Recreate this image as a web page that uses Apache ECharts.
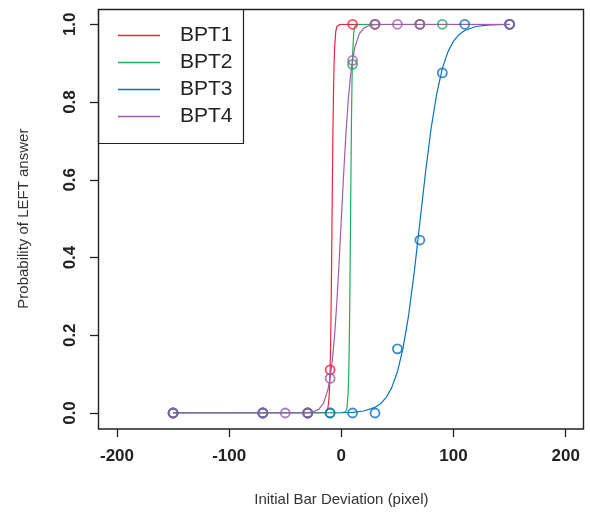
<!DOCTYPE html>
<html>
<head>
<meta charset="utf-8">
<script src="https://cdn.jsdelivr.net/npm/echarts@6/dist/echarts.min.js"></script>
<style>html,body{margin:0;padding:0;background:#fff}#c{width:590px;height:516px}</style>
</head>
<body>
<div id="c"></div>
<script>
// ---- data ----
const seriesNames = ['BPT1', 'BPT2', 'BPT3', 'BPT4'];
const seriesColors = ['#E8283F', '#1FAE57', '#0A70C0', '#A05CA9'];
const xTicks = [-200, -100, 0, 100, 200];
const yTicks = [0.0, 0.2, 0.4, 0.6, 0.8, 1.0];

// observed proportions
const bpt1X = [-150, -70, -30, -10, 10, 30, 70, 150];
const bpt1Y = [0, 0, 0, 0.111, 1, 1, 1, 1];
const bpt2X = [-150, -70, -30, -10, 10, 30, 70, 90, 150];
const bpt2Y = [0, 0, 0, 0, 0.897, 1, 1, 1, 1];
const bpt3X = [-150, -70, -30, -10, 10, 30, 50, 70, 90, 110, 150];
const bpt3Y = [0, 0, 0, 0, 0, 0, 0.165, 0.445, 0.875, 1, 1];
const bpt4X = [-150, -70, -50, -30, -10, 10, 30, 50, 70, 150];
const bpt4Y = [0, 0, 0, 0, 0.089, 0.907, 1, 1, 1, 1];

// fitted curves
const curve1X = [-150, -20, -14, -13, -12, -11, -10.5, -10, -9.5, -9, -8.5, -8, -7.5, -7, -6.5, -6, -5, -4, -3, -1, 150];
const curve1Y = [0, 0, 0.0011, 0.0035, 0.0116, 0.0377, 0.0666, 0.115, 0.192, 0.301, 0.44, 0.589, 0.723, 0.826, 0.897, 0.94, 0.981, 0.9943, 0.9983, 0.9998, 1];
const curve2X = [-150, 0, 4, 5, 6, 6.5, 7, 7.5, 8, 8.5, 9, 9.5, 10, 11, 12, 14, 20, 150];
const curve2Y = [0, 0, 0.0034, 0.0131, 0.0488, 0.0915, 0.165, 0.28, 0.433, 0.6, 0.746, 0.853, 0.919, 0.978, 0.9941, 0.9996, 1, 1];
const curve3X = [-150, 0, 10, 20, 30, 35, 40, 45, 50, 55, 60, 65, 70, 75, 80, 85, 90, 95, 100, 105, 110, 120, 130, 140, 150];
const curve3Y = [0, 0.0006, 0.0018, 0.0051, 0.0145, 0.0241, 0.04, 0.066, 0.106, 0.167, 0.252, 0.363, 0.49, 0.618, 0.732, 0.821, 0.886, 0.929, 0.957, 0.974, 0.984, 0.9944, 0.998, 0.9993, 0.9998];
const curve4X = [-150, -40, -30, -25, -20, -16, -12, -10, -8, -6, -4, -2, 0, 2, 4, 6, 8, 10, 12, 16, 20, 25, 30, 40, 150];
const curve4Y = [0, 0.0001, 0.001, 0.0032, 0.0099, 0.0246, 0.0595, 0.0911, 0.137, 0.201, 0.285, 0.387, 0.5, 0.613, 0.715, 0.799, 0.863, 0.909, 0.9405, 0.9754, 0.9901, 0.9968, 0.999, 0.9999, 1];

const ptsX = [bpt1X, bpt2X, bpt3X, bpt4X];
const ptsY = [bpt1Y, bpt2Y, bpt3Y, bpt4Y];
const curX = [curve1X, curve2X, curve3X, curve4X];
const curY = [curve1Y, curve2Y, curve3Y, curve4Y];

const zip = (xs, ys) => xs.map((x, i) => [x, ys[i]]);

const series = [];
seriesNames.forEach((n, i) => {
  series.push({
    name: n, type: 'line', data: zip(curX[i], curY[i]),
    showSymbol: false, symbol: 'none', lineStyle: { color: seriesColors[i], width: 1.2 },
    itemStyle: { color: seriesColors[i] }, z: 2, silent: true, animation: false
  });
});
seriesNames.forEach((n, i) => {
  series.push({
    name: n + ' obs', type: 'scatter', data: zip(ptsX[i], ptsY[i]),
    symbol: 'circle', symbolSize: 9,
    itemStyle: { color: 'rgba(255,255,255,0)', borderColor: seriesColors[i], borderWidth: 1.8 },
    z: 3 + i, silent: true, animation: false
  });
});

const font = 'Liberation Sans, Arial, sans-serif';
const chart = echarts.init(document.getElementById('c'), null, { renderer: 'canvas' });
chart.setOption({
  animation: false,
  backgroundColor: '#ffffff',
  grid: { left: 117, right: 24.3, top: 24.3, bottom: 103, containLabel: false, outerBoundsMode: 'none' },
  xAxis: {
    type: 'value', min: xTicks[0], max: xTicks[xTicks.length - 1], interval: 100,
    position: 'bottom', offset: 16, splitLine: { show: false }, axisLine: { show: false, onZero: false },
    axisTick: { show: true, length: 8, lineStyle: { color: '#222', width: 1.3 } },
    axisLabel: { margin: 19, fontSize: 17, fontWeight: 'bold', color: '#222', fontFamily: font },
    name: 'Initial Bar Deviation (pixel)', nameLocation: 'middle', nameGap: 63,
    nameTextStyle: { fontSize: 15, color: '#333', fontFamily: font }
  },
  yAxis: {
    type: 'value', min: yTicks[0], max: yTicks[yTicks.length - 1], interval: 0.2,
    position: 'left', offset: 19, splitLine: { show: false }, axisLine: { show: false, onZero: false },
    axisTick: { show: true, length: 8, lineStyle: { color: '#222', width: 1.3 } },
    axisLabel: { margin: 19, rotate: 90, fontSize: 17, fontWeight: 'bold', color: '#222',
      fontFamily: font, formatter: v => v.toFixed(1) },
    name: 'Probability of LEFT answer', nameLocation: 'middle', nameGap: 67,
    nameTextStyle: { fontSize: 15, color: '#333', fontFamily: font }
  },
  legend: {
    data: seriesNames, orient: 'vertical', left: 118, top: 22, padding: 0, itemGap: 0,
    icon: 'rect', itemWidth: 42, itemHeight: 1.5,
    textStyle: { fontSize: 21, lineHeight: 27, color: '#222', padding: [0, 0, 0, 15], fontFamily: font },
    selectedMode: false
  },
  graphic: [
    { type: 'rect', shape: { x: 98.5, y: 9.5, width: 485, height: 419.5 }, style: { fill: null, stroke: '#222', lineWidth: 1.4 }, z: 10, silent: true },
    { type: 'rect', shape: { x: 98.5, y: 9.5, width: 145, height: 134 }, style: { fill: null, stroke: '#222', lineWidth: 1.2 }, z: 10, silent: true }
  ],
  series: series
});
</script>
</body>
</html>
